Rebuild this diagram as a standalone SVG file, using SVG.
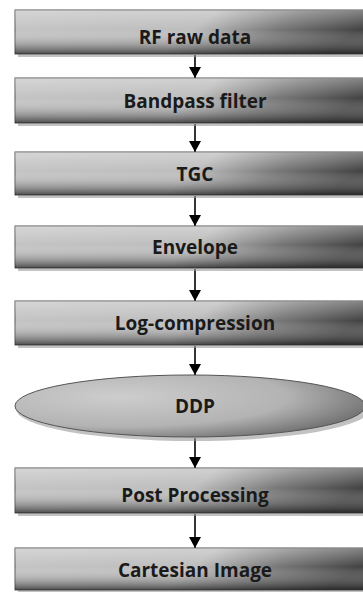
<svg xmlns="http://www.w3.org/2000/svg" width="363" height="592" viewBox="0 0 363 592">
<style>
.lbl{font-family:"Open Sans","Liberation Sans",sans-serif;font-weight:bold;font-size:19px;fill:#1a1a1a;text-anchor:middle}
.box{fill:url(#hg);stroke:#555;stroke-width:1}
.ov{fill:url(#vg)}
.sh{fill:#9a9a9a;opacity:0.6}
.conn line{stroke:#000;stroke-width:1.6}
</style>
<defs>
<linearGradient id="hg" x1="0" y1="0" x2="1" y2="0.15">
<stop offset="0" stop-color="#c4c4c4"/>
<stop offset="0.55" stop-color="#bdbdbd"/>
<stop offset="0.78" stop-color="#777"/>
<stop offset="1" stop-color="#444"/>
</linearGradient>
<linearGradient id="vg" x1="0" y1="0" x2="0" y2="1">
<stop offset="0" stop-color="#fff" stop-opacity="0.3"/>
<stop offset="0.45" stop-color="#fff" stop-opacity="0"/>
<stop offset="1" stop-color="#1a1a1a" stop-opacity="0.7"/>
</linearGradient>
<radialGradient id="eg" cx="0.3" cy="0.35" r="0.8">
<stop offset="0" stop-color="#cdcdcd"/>
<stop offset="0.6" stop-color="#b3b3b3"/>
<stop offset="1" stop-color="#666"/>
</radialGradient>
<marker id="ah" markerWidth="11" markerHeight="12" refX="11" refY="6" orient="auto" markerUnits="userSpaceOnUse" viewBox="0 0 11 12">
<path d="M0,0 L11,6 L0,12 Z" fill="#000"/>
</marker>
</defs>
<g class="conn" id="connectors">
<line x1="195" y1="55" x2="195" y2="78" marker-end="url(#ah)"/>
<line x1="195" y1="124" x2="195" y2="152" marker-end="url(#ah)"/>
<line x1="195" y1="196" x2="195" y2="226" marker-end="url(#ah)"/>
<line x1="195" y1="269" x2="195" y2="301" marker-end="url(#ah)"/>
<line x1="195" y1="346" x2="195" y2="375" marker-end="url(#ah)"/>
<line x1="195" y1="438" x2="195" y2="468" marker-end="url(#ah)"/>
<line x1="195" y1="514" x2="195" y2="548" marker-end="url(#ah)"/>
</g>
<g id="n1"><rect class="sh" x="18" y="13" width="360" height="44"/><rect class="box" x="15" y="10" width="360" height="44"/><rect class="ov" x="15" y="10" width="360" height="44"/><text class="lbl" x="195" y="44">RF raw data</text></g>
<g id="n2"><rect class="sh" x="18" y="81" width="360" height="45"/><rect class="box" x="15" y="78" width="360" height="45"/><rect class="ov" x="15" y="78" width="360" height="45"/><text class="lbl" x="195" y="108">Bandpass filter</text></g>
<g id="n3"><rect class="sh" x="18" y="155" width="360" height="43"/><rect class="box" x="15" y="152" width="360" height="43"/><rect class="ov" x="15" y="152" width="360" height="43"/><text class="lbl" x="195" y="181">TGC</text></g>
<g id="n4"><rect class="sh" x="18" y="229" width="360" height="42"/><rect class="box" x="15" y="226" width="360" height="42"/><rect class="ov" x="15" y="226" width="360" height="42"/><text class="lbl" x="195" y="254">Envelope</text></g>
<g id="n5"><rect class="sh" x="18" y="304" width="360" height="44"/><rect class="box" x="15" y="301" width="360" height="44"/><rect class="ov" x="15" y="301" width="360" height="44"/><text class="lbl" x="195" y="330">Log-compression</text></g>
<g id="n6"><ellipse cx="193" cy="409" rx="177" ry="32" fill="#999" opacity="0.6"/><ellipse cx="190" cy="406" rx="175" ry="31" fill="url(#eg)" stroke="#555" stroke-width="1"/><text class="lbl" x="195" y="413">DDP</text></g>
<g id="n7"><rect class="sh" x="18" y="471" width="360" height="45"/><rect class="box" x="15" y="468" width="360" height="45"/><rect class="ov" x="15" y="468" width="360" height="45"/><text class="lbl" x="195" y="502">Post Processing</text></g>
<g id="n8"><rect class="sh" x="18" y="551" width="360" height="42"/><rect class="box" x="15" y="548" width="360" height="42"/><rect class="ov" x="15" y="548" width="360" height="42"/><text class="lbl" x="195" y="577">Cartesian Image</text></g>
</svg>
